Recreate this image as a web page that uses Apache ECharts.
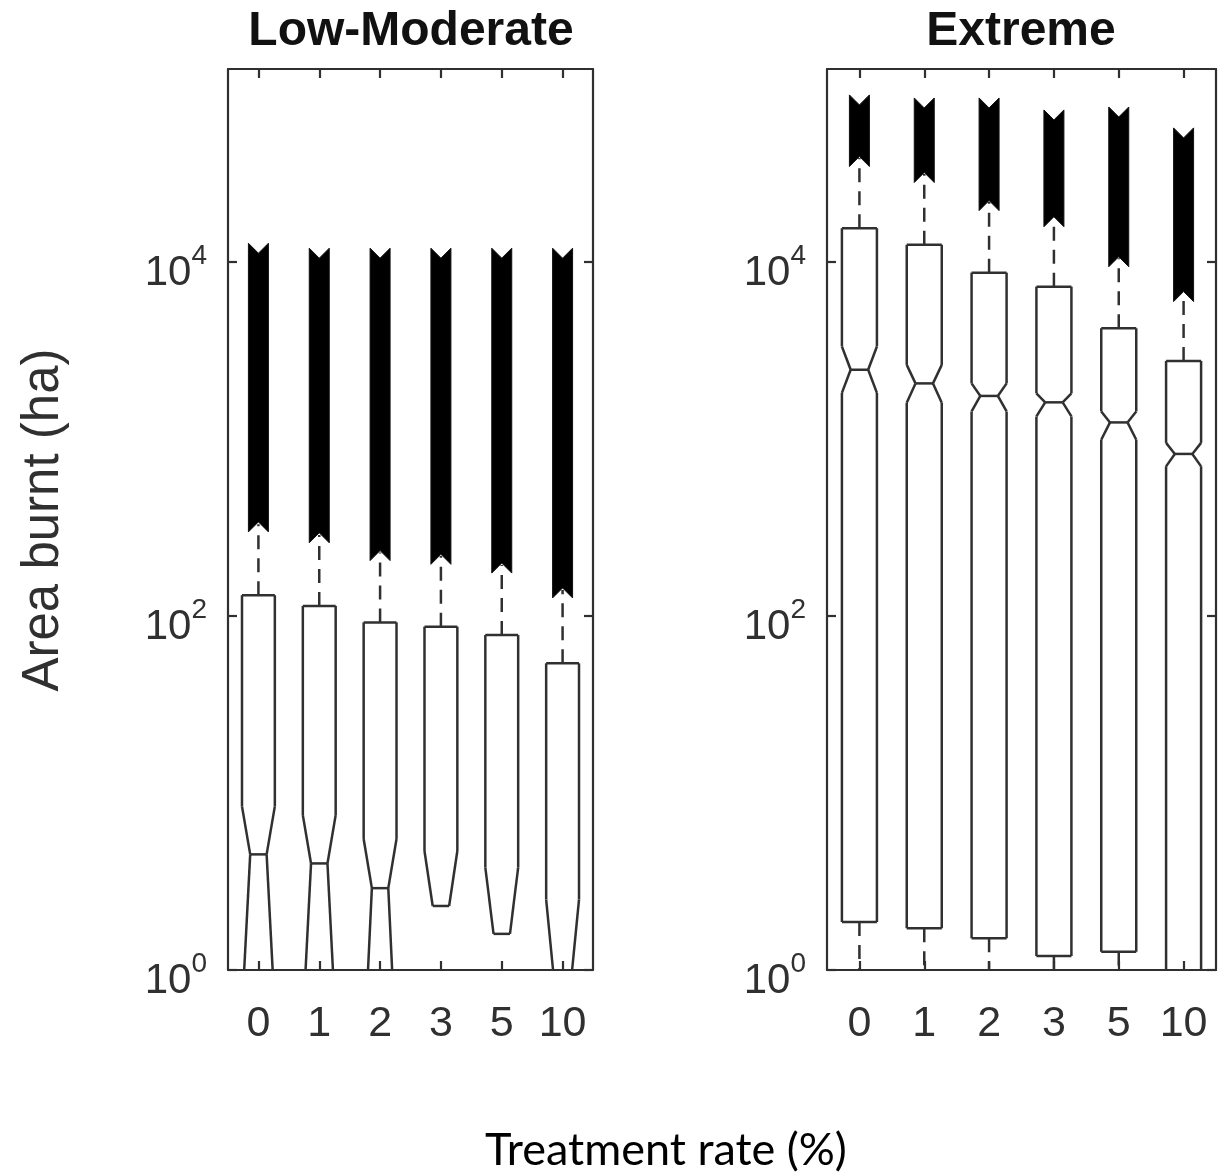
<!DOCTYPE html>
<html>
<head>
<meta charset="utf-8">
<script src="https://cdn.jsdelivr.net/npm/echarts@6/dist/echarts.min.js"></script>
<style>
  html, body { margin: 0; padding: 0; background: #fff; }
  #chart { width: 1218px; height: 1174px; }
</style>
</head>
<body>
<div id="chart"></div>
<script>
// Treatment rates on the x axis
const categories = ['0', '1', '2', '3', '5', '10'];
const yTickValues = [1, 100, 10000];
const yMax = 123000;

// Low-Moderate weather: notched box statistics (ha)
const lmWhiskerLow  = [0.1, 0.1, 0.1, 0.1, 0.1, 0.1];
const lmQ1          = [0.4, 0.4, 0.25, 0.3, 0.25, 0.2];
const lmNotchLow    = [0.58, 0.5, 0.3, -0.1, -0.6, -0.8];
const lmMedian      = [4.5, 4.0, 2.9, 2.3, 1.6, 0.84];
const lmNotchHigh   = [8.4, 7.5, 5.5, 4.7, 3.8, 2.5];
const lmQ3          = [131, 114, 92, 87, 78, 54];
const lmWhiskerHigh = [330, 287, 228, 218, 194, 140];
const lmOutlierLow  = [340, 295, 234, 223, 199, 144];
const lmOutlierHigh = [11200, 10500, 10500, 10500, 10500, 10500];

// Extreme weather: notched box statistics (ha)
const exWhiskerLow  = [0.1, 0.1, 0.1, 0.1, 0.1, 0.1];
const exQ1          = [1.87, 1.72, 1.51, 1.20, 1.27, 0.8];
const exNotchLow    = [1820, 1600, 1430, 1340, 990, 700];
const exMedian      = [2460, 2060, 1750, 1610, 1240, 823];
const exNotchHigh   = [3330, 2620, 2060, 1810, 1430, 950];
const exQ3          = [15500, 12500, 8700, 7250, 4220, 2760];
const exWhiskerHigh = [38700, 31400, 21800, 17700, 10500, 6700];
const exOutlierLow  = [39400, 32000, 22200, 18000, 10700, 6800];
const exOutlierHigh = [77100, 74100, 74100, 63400, 65900, 50200];

const FONT = '"Liberation Sans", Arial, Helvetica, sans-serif';
const INK = '#303030';
const BOX_FRACTION = 0.54;
const MARKER = 20;

function boxRows(wl, q1, nl, md, nh, q3, wh) {
  return categories.map((c, k) => [k, wl[k], q1[k], nl[k], md[k], nh[k], q3[k], wh[k]]);
}
function outlierRows(lo, hi) {
  return categories.map((c, k) => [k, lo[k], hi[k]]);
}

// Keep a segment inside the vertical extent of the plot area
function clipSegment(p, q, top, bottom) {
  let [x1, y1] = p, [x2, y2] = q;
  if ((y1 > bottom && y2 > bottom) || (y1 < top && y2 < top)) return null;
  const cut = (xa, ya, xb, yb, yl) => [xa + (xb - xa) * (yl - ya) / (yb - ya), yl];
  if (y1 > bottom) [x1, y1] = cut(x1, y1, x2, y2, bottom);
  if (y2 > bottom) [x2, y2] = cut(x2, y2, x1, y1, bottom);
  if (y1 < top) [x1, y1] = cut(x1, y1, x2, y2, top);
  if (y2 < top) [x2, y2] = cut(x2, y2, x1, y1, top);
  return [[x1, y1], [x2, y2]];
}

const boxStyle = { stroke: INK, lineWidth: 2.5, fill: null };
const whiskerStyle = { stroke: INK, lineWidth: 2.5, lineDash: [14, 9], fill: null };

// Notched box: vertices with non-positive values cannot be placed on the log axis and are skipped
function renderBox(params, api) {
  const cs = params.coordSys;
  const top = cs.y, bottom = cs.y + cs.height;
  const i = api.value(0);
  const v = {
    wl: api.value(1), q1: api.value(2), nl: api.value(3), md: api.value(4),
    nh: api.value(5), q3: api.value(6), wh: api.value(7)
  };
  const cx = api.coord([i, 1])[0];
  const bw = cs.width / categories.length * BOX_FRACTION;
  const L = cx - bw / 2, R = cx + bw / 2, d = bw / 4;
  const yOf = val => (val > 0 ? api.coord([i, val])[1] : null);
  const children = [];
  const seg = (p, q, style) => {
    if (p[1] == null || q[1] == null) return;
    const c = clipSegment(p, q, top, bottom);
    if (!c) return;
    children.push({
      type: 'line',
      shape: { x1: c[0][0], y1: c[0][1], x2: c[1][0], y2: c[1][1] },
      style: style
    });
  };
  const outline = [
    [L, 'q1'], [L, 'nl'], [L + d, 'md'], [L, 'nh'], [L, 'q3'],
    [R, 'q3'], [R, 'nh'], [R - d, 'md'], [R, 'nl'], [R, 'q1'], [L, 'q1']
  ];
  for (let k = 0; k < outline.length - 1; k++) {
    const a = outline[k], b = outline[k + 1];
    seg([a[0], yOf(v[a[1]])], [b[0], yOf(v[b[1]])], boxStyle);
  }
  seg([L + d, yOf(v.md)], [R - d, yOf(v.md)], boxStyle);
  seg([cx, yOf(v.q3)], [cx, yOf(v.wh)], whiskerStyle);
  seg([cx, yOf(v.q1)], [cx, yOf(v.wl)], whiskerStyle);
  return { type: 'group', children: children };
}

// Dense column of 'x' outlier markers between the lowest and highest outlier
function renderOutliers(params, api) {
  const i = api.value(0);
  const lo = api.coord([i, api.value(1)]);
  const hi = api.coord([i, api.value(2)]);
  const h = MARKER / 2, cx = lo[0];
  return {
    type: 'polygon',
    shape: {
      points: [
        [cx - h, hi[1] - h], [cx, hi[1]], [cx + h, hi[1] - h],
        [cx + h, lo[1] + h], [cx, lo[1]], [cx - h, lo[1] + h]
      ]
    },
    style: { fill: '#000', stroke: '#111', lineWidth: 1 }
  };
}

const axisLine = { show: true, lineStyle: { color: INK, width: 2.2 } };
const tickStyle = { color: INK, width: 2.2 };

function bottomAxis(g) {
  return {
    gridIndex: g, type: 'category', data: categories, position: 'bottom',
    axisLine: axisLine,
    axisTick: { show: true, inside: true, alignWithLabel: true, length: 9, lineStyle: tickStyle, interval: 0 },
    axisLabel: { interval: 0, fontSize: 43, fontFamily: FONT, color: INK, margin: 33 },
    splitLine: { show: false }
  };
}
function topAxis(g) {
  return {
    gridIndex: g, type: 'category', data: categories, position: 'top',
    axisLine: axisLine,
    axisTick: { show: true, inside: true, alignWithLabel: true, length: 9, lineStyle: tickStyle, interval: 0 },
    axisLabel: { show: false },
    splitLine: { show: false }
  };
}
function leftAxis(g) {
  return {
    gridIndex: g, type: 'log', logBase: 10, min: 1, max: yMax, position: 'left',
    axisLine: axisLine,
    axisTick: { show: true, inside: true, length: 9, lineStyle: tickStyle, customValues: yTickValues },
    axisLabel: {
      customValues: yTickValues,
      margin: 21,
      padding: [12, 0, 0, 0],
      formatter: val => '{b|10}{s|' + Math.round(Math.log10(val)) + '}',
      rich: {
        b: { fontSize: 42, fontFamily: FONT, color: INK, padding: [10, 0, 0, 0] },
        s: { fontSize: 28, fontFamily: FONT, color: INK, verticalAlign: 'top' }
      }
    },
    splitLine: { show: false },
    minorTick: { show: false }
  };
}
function rightAxis(g) {
  return {
    gridIndex: g, type: 'log', logBase: 10, min: 1, max: yMax, position: 'right',
    axisLine: axisLine,
    axisTick: { show: true, inside: true, length: 9, lineStyle: tickStyle, customValues: yTickValues },
    axisLabel: { show: false },
    splitLine: { show: false }
  };
}

const option = {
  backgroundColor: '#ffffff',
  animation: false,
  grid: [
    { left: 228, top: 69, width: 365, height: 901 },
    { left: 827, top: 69, width: 389, height: 901 }
  ],
  xAxis: [bottomAxis(0), topAxis(0), bottomAxis(1), topAxis(1)],
  yAxis: [leftAxis(0), rightAxis(0), leftAxis(1), rightAxis(1)],
  graphic: [
    {
      type: 'text', x: 411, y: 32,
      style: { text: 'Low-Moderate', font: 'bold 48px ' + FONT, fill: '#111',
               textAlign: 'center', textVerticalAlign: 'middle', align: 'center', verticalAlign: 'middle' }
    },
    {
      type: 'text', x: 1021, y: 32,
      style: { text: 'Extreme', font: 'bold 48px ' + FONT, fill: '#111',
               textAlign: 'center', textVerticalAlign: 'middle', align: 'center', verticalAlign: 'middle' }
    },
    {
      type: 'text', x: 44, y: 520, rotation: Math.PI / 2,
      style: { text: 'Area burnt (ha)', font: '51px ' + FONT, fill: INK,
               textAlign: 'center', textVerticalAlign: 'middle', align: 'center', verticalAlign: 'middle' }
    },
    {
      type: 'text', x: 666, y: 1150,
      style: { text: 'Treatment rate (%)', font: '45px Lato, "Open Sans", sans-serif', fill: '#000',
               textAlign: 'center', textVerticalAlign: 'middle', align: 'center', verticalAlign: 'middle' }
    }
  ],
  series: [
    {
      type: 'custom', name: 'Low-Moderate boxes', xAxisIndex: 0, yAxisIndex: 0,
      renderItem: renderBox, encode: { x: 0, y: 4 },
      data: boxRows(lmWhiskerLow, lmQ1, lmNotchLow, lmMedian, lmNotchHigh, lmQ3, lmWhiskerHigh),
      z: 2
    },
    {
      type: 'custom', name: 'Low-Moderate outliers', xAxisIndex: 0, yAxisIndex: 0,
      renderItem: renderOutliers, encode: { x: 0, y: 2 },
      data: outlierRows(lmOutlierLow, lmOutlierHigh),
      z: 3
    },
    {
      type: 'custom', name: 'Extreme boxes', xAxisIndex: 2, yAxisIndex: 2,
      renderItem: renderBox, encode: { x: 0, y: 4 },
      data: boxRows(exWhiskerLow, exQ1, exNotchLow, exMedian, exNotchHigh, exQ3, exWhiskerHigh),
      z: 2
    },
    {
      type: 'custom', name: 'Extreme outliers', xAxisIndex: 2, yAxisIndex: 2,
      renderItem: renderOutliers, encode: { x: 0, y: 2 },
      data: outlierRows(exOutlierLow, exOutlierHigh),
      z: 3
    }
  ]
};

const chart = echarts.init(document.getElementById('chart'), null, { renderer: 'canvas' });
chart.setOption(option);
</script>
</body>
</html>
